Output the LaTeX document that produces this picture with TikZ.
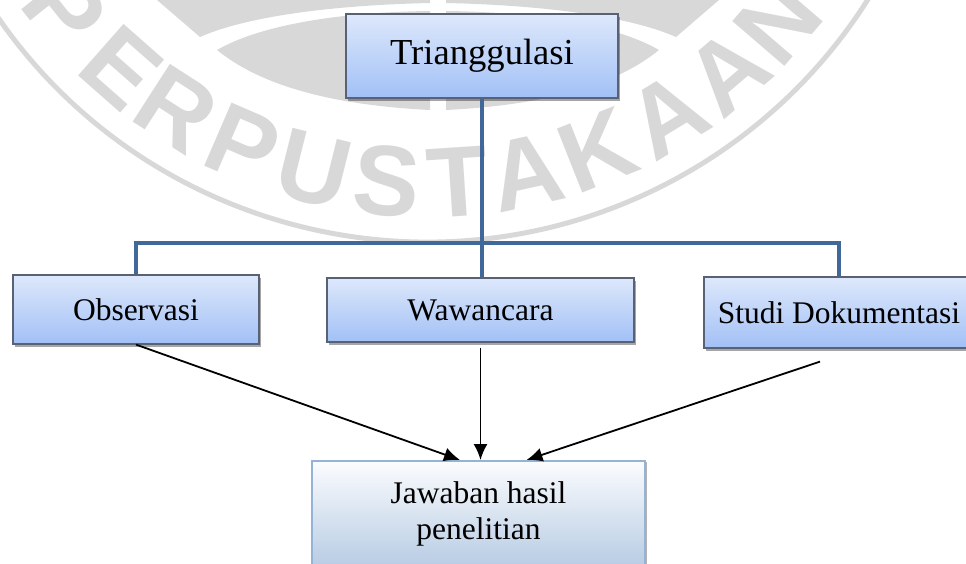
\documentclass[tikz,border=0pt]{standalone}
\usepackage{fontspec}
\setmainfont{Liberation Serif}
\newfontfamily\wmfont{Liberation Sans}
\usetikzlibrary{arrows.meta, calc, shadows}
\definecolor{wmgray}{RGB}{216,216,216}
\definecolor{barblue}{RGB}{64,104,152}
\definecolor{boxtop}{RGB}{221,232,251}
\definecolor{boxbot}{RGB}{162,192,246}
\definecolor{boxedge}{RGB}{88,98,116}
\definecolor{jawtop}{RGB}{251,252,254}
\definecolor{jawbot}{RGB}{184,204,228}
\definecolor{jawedge}{RGB}{149,179,215}
\tikzset{
  method/.style={draw=boxedge, line width=1.2, top color=boxtop, bottom color=boxbot, inner sep=0pt,
    font=\fontsize{31.5}{36}\selectfont,
    drop shadow={shadow xshift=1.5pt, shadow yshift=-2.5pt, opacity=0.35, fill=black}},
  result/.style={draw=jawedge, line width=2, top color=jawtop, bottom color=jawbot, inner sep=0pt,
    align=center, font=\fontsize{31.5}{36}\selectfont,
    drop shadow={shadow xshift=2pt, shadow yshift=-1pt, opacity=0.3, fill=black}},
  trunk/.style={barblue, line width=4},
  flow/.style={black, line width=1.8, -{Latex[length=16pt, width=14pt]}},
  wmletter/.style={wmgray, inner sep=0pt, font=\fontsize{100}{100}\wmfont\bfseries},
}

\begin{document}
\begin{tikzpicture}[x=1pt,y=1pt,yscale=-1,xscale=1]
    \clip (0,0) rectangle (966,563);

    % watermark
    \coordinate (wmc) at (427,-280);
    \draw [wmgray, line width=5] ($(wmc)+(150:522)$) arc [start angle=150, end angle=30, radius=522];
    \foreach \ch/\ang [count=\i] in {P/141.4, E/131.4, R/122.8, P/113.4, U/104.1, S/95, T/86.2, A/77.6, K/68.4, A/58.7, A/49.5, N/40.7}
        \node [wmletter, rotate=90-\ang] (wm\i) at ($(wmc)+(\ang:463)$) {\ch};
    %Shape: Polygon Curved
    \fill [wmgray] (157,0) -- (200,37) .. controls (250,15) and (340,5) .. (430,3) -- (430,0) -- cycle ;
    \fill [wmgray] (719,0) -- (676,37) .. controls (626,15) and (536,5) .. (446,3) -- (446,0) -- cycle ;
    \fill [wmgray] (217,50) .. controls (260,25) and (340,12) .. (430,11) -- (430,110) .. controls (330,105) and (260,85) .. (217,50) -- cycle ;
    \fill [wmgray] (659,50) .. controls (616,25) and (536,12) .. (446,11) -- (446,110) .. controls (546,105) and (616,85) .. (659,50) -- cycle ;

    % Boxes
    \node [method, minimum width=272, minimum height=84, font=\fontsize{36.6}{40}\selectfont] (tri) at (482,56) {Trianggulasi};
    \node [method, minimum width=246, minimum height=69] (obs) at (136,309.5) {Observasi};
    \node [method, minimum width=307, minimum height=64] (waw) at (480.5,310) {Wawancara};
    \node [method, minimum width=270, minimum height=71] (studi) at (839,312.5) {Studi Dokumentasi};
    \node [result, minimum width=333, minimum height=105, anchor=north] (jaw) at (478.5,460) {Jawaban hasil\\penelitian};

    % Tree lines
    \coordinate (fork) at ($(tri.south)+(0,144)$);
    \draw [trunk] (tri.south) -- (waw.north -| tri.south);
    \draw [trunk] (obs.north) |- (fork) -| (studi.north);

    % Arrows
    \draw [flow] (obs.south) -- ([xshift=-18.5pt]jaw.north);
    \draw [flow] ($(waw.south)+(0,5)$) -- (waw.south |- jaw.north);
    \draw [flow] ($(studi.south)+(-19,13)$) -- ([xshift=48pt]jaw.north);
\end{tikzpicture}
\end{document}
